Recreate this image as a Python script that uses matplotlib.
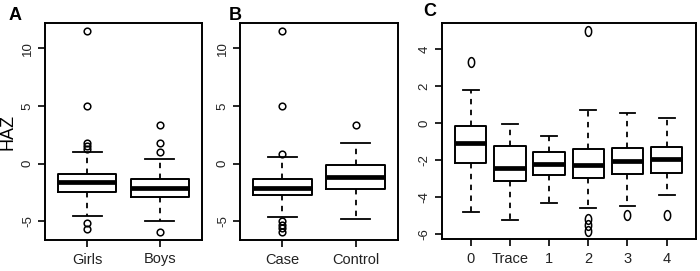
import matplotlib
matplotlib.use("Agg")
import matplotlib.pyplot as plt
from matplotlib import font_manager
from matplotlib.path import Path
import numpy as np

# fonte estreita se existir
nomes = {f.name for f in font_manager.fontManager.ttflist}
fonte = 'Liberation Sans Narrow' if 'Liberation Sans Narrow' in nomes else 'Liberation Sans'
plt.rcParams['font.family'] = [fonte, 'DejaVu Sans']

# Painel A: sexo
cat_a = ["Girls", "Boys"]
q1_a = [-2.48, -2.88]
med_a = [-1.6, -2.16]
q3_a = [-0.95, -1.38]
wlo_a = [-4.56, -5.0]
whi_a = [0.98, 0.4]
out_a = [[11.5, 5.0, 1.8, 1.55, 1.25, -5.2, -5.7],
         [3.35, 1.75, 1.0, -5.94]]

# Painel B: caso / controle
cat_b = ["Case", "Control"]
q1_b = [-2.77, -2.25]
med_b = [-2.1, -1.15]
q3_b = [-1.33, -0.14]
wlo_b = [-4.61, -4.84]
whi_b = [0.55, 1.76]
out_b = [[11.5, 5.0, 0.84, -5.0, -5.3, -5.6, -5.94],
         [3.35]]

# Painel C: grupos
cat_c = ["0", "Trace", "1", "2", "3", "4"]
q1_c = [-2.15, -3.14, -2.84, -2.96, -2.75, -2.69]
med_c = [-1.11, -2.42, -2.21, -2.26, -2.07, -1.98]
q3_c = [-0.15, -1.26, -1.56, -1.4, -1.35, -1.31]
wlo_c = [-4.81, -5.26, -4.36, -4.58, -4.52, -3.92]
whi_c = [1.79, -0.04, -0.72, 0.72, 0.54, 0.27]
out_c = [[3.32], [], [], [4.97, -5.2, -5.55, -5.85], [-4.99], [-4.99]]


def estatisticas(nomes_cat, q1, med, q3, wlo, whi, outs):
    return [dict(label=n, q1=a, med=m, q3=b, whislo=lo, whishi=hi, fliers=o)
            for n, a, m, b, lo, hi, o in zip(nomes_cat, q1, med, q3, wlo, whi, outs)]


# marcador elíptico (painel C parece esticado)
t = np.linspace(0, 2 * np.pi, 40)
elipse = Path(np.column_stack([np.cos(t) * 0.65, np.sin(t)]))

fig = plt.figure(figsize=(7, 2.71), dpi=100)
ax_a = fig.add_axes([45 / 700, 31 / 271, 157 / 700, 217 / 271])
ax_b = fig.add_axes([240 / 700, 31 / 271, 158 / 700, 217 / 271])
ax_c = fig.add_axes([441.7 / 700, 31.7 / 271, 254 / 700, 216.6 / 271])

paineis = [
    (ax_a, estatisticas(cat_a, q1_a, med_a, q3_a, wlo_a, whi_a, out_a), 'o', 4.8, (-6.64, 12.2), [-5, 0, 5, 10]),
    (ax_b, estatisticas(cat_b, q1_b, med_b, q3_b, wlo_b, whi_b, out_b), 'o', 4.8, (-6.64, 12.2), [-5, 0, 5, 10]),
    (ax_c, estatisticas(cat_c, q1_c, med_c, q3_c, wlo_c, whi_c, out_c), elipse, 7, (-6.3, 5.42), [-6, -4, -2, 0, 2, 4]),
]

for ax, stats, marcador, tam, ylim, yticks in paineis:
    n = len(stats)
    pos = np.arange(1, n + 1)
    ax.bxp(stats, positions=pos, widths=0.8, capwidths=0.4, showfliers=True,
           boxprops=dict(color='black', linewidth=1.4),
           medianprops=dict(color='black', linewidth=3.4, solid_capstyle='butt'),
           whiskerprops=dict(color='black', linewidth=1.3, linestyle=(0, (3, 3))),
           capprops=dict(color='black', linewidth=1.3),
           flierprops=dict(marker=marcador, markersize=tam, markerfacecolor='none',
                           markeredgecolor='black', markeredgewidth=1.1))
    ax.set_xlim(0.5 - 0.04 * n, n + 0.5 + 0.04 * n)
    ax.set_ylim(*ylim)
    ax.set_yticks(yticks)
    ax.set_yticklabels([str(v) for v in yticks], rotation=90, va='center', fontsize=9.5,
                       color='#222222')
    ax.set_xticks(pos)
    ax.set_xticklabels([s['label'] for s in stats], fontsize=10.5, color='#222222')
    ax.tick_params(axis='both', direction='out', length=5, width=1.2, color='black')
    ax.tick_params(axis='y', pad=3)
    ax.tick_params(axis='x', pad=4)
    for s in ax.spines.values():
        s.set_linewidth(1.4)

ax_a.set_ylabel("HAZ", fontsize=13, labelpad=4, family=['Liberation Sans', 'DejaVu Sans'])

fig.text(9 / 700, 1 - 15.5 / 271, "A", fontsize=13, fontweight='bold', va='center', family=['Liberation Sans', 'DejaVu Sans'])
fig.text(229 / 700, 1 - 15.5 / 271, "B", fontsize=13, fontweight='bold', va='center', family=['Liberation Sans', 'DejaVu Sans'])
fig.text(423 / 700, 1 - 11.7 / 271, "C", fontsize=13, fontweight='bold', va='center', family=['Liberation Sans', 'DejaVu Sans'])

fig.savefig("out.png", dpi=100)
